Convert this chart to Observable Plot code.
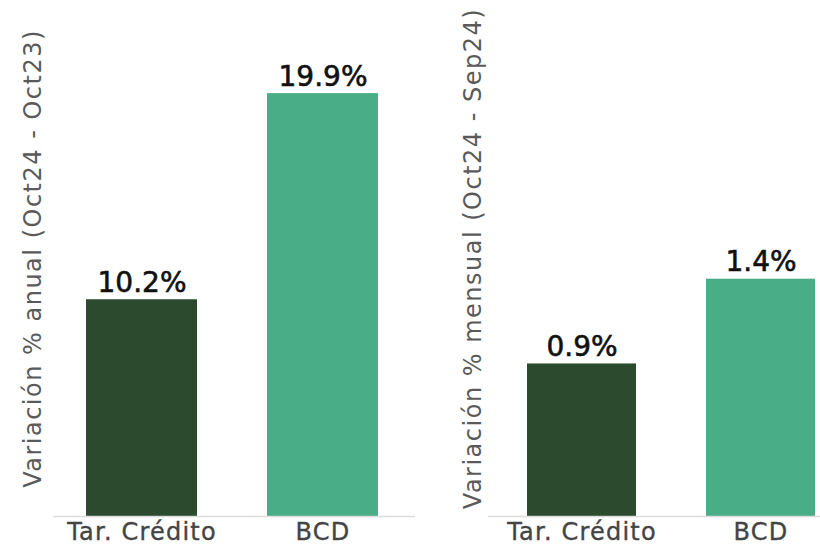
<!DOCTYPE html>
<html>
<head>
<meta charset="utf-8">
<script src="https://cdn.jsdelivr.net/npm/d3@7"></script>
<script src="https://cdn.jsdelivr.net/npm/@observablehq/plot@0.6"></script>
<style>
  html, body { margin: 0; padding: 0; background: #fff; }
  #wrap { display: flex; flex-direction: row; width: 820px; height: 547px; overflow: hidden; }
  #wrap svg { display: block; }
  g[aria-label="x-axis tick label"] text { letter-spacing: 1.2px; stroke: #444; stroke-width: 0.35px; }
  g.ylab text { letter-spacing: 1.5px; }
  g.vlab text { stroke: #111; stroke-width: 0.6px; }
</style>
</head>
<body>
<div id="wrap"></div>
<script>
const categories = ["Tar. Crédito", "BCD"];
const colors = ["#2c4a2e", "#49ae88"];
const anualValues = [10.2, 19.9];
const mensualValues = [0.9, 1.4];
const anualLabel = "Variación % anual (Oct24 - Oct23)";
const mensualLabel = "Variación % mensual (Oct24 - Sep24)";

const font = "DejaVu Sans, sans-serif";

function panel({values, label, width, marginLeft, yMax, padding, paddingOuter, align, labelDx}) {
  const data = categories.map((c, i) => ({cat: c, value: values[i], color: colors[i]}));
  return Plot.plot({
    width,
    height: 547,
    marginLeft,
    marginRight: 0,
    marginTop: 0,
    marginBottom: 31,
    style: {fontFamily: font, background: "#fff", overflow: "visible"},
    x: {domain: categories, paddingInner: padding, paddingOuter, align, label: null},
    y: {domain: [0, yMax], axis: null},
    marks: [
      Plot.barY(data, {x: "cat", y: "value", fill: "color"}),
      Plot.ruleY([0], {stroke: "#dcdcdc", strokeWidth: 1.5}),
      Plot.text(data, {
        x: "cat", y: "value", text: d => d.value.toFixed(1) + "%",
        dy: -8, lineAnchor: "bottom", fontSize: 28, fill: "#111", className: "vlab"
      }),
      Plot.axisX({tickSize: 0, tickPadding: 6, fontSize: 24, fill: "#444", label: null}),
      Plot.text([label], {
        frameAnchor: "left", rotate: -90, dx: labelDx, textAnchor: "middle",
        lineAnchor: "middle", fontSize: 24, fill: "#5a5a5a", className: "ylab"
      })
    ]
  });
}

const left = panel({
  values: anualValues, label: anualLabel, width: 415, marginLeft: 53,
  yMax: 516 / 21.25, padding: 0.387, paddingOuter: 0.193, align: 0.47, labelDx: -20
});
const right = panel({
  values: mensualValues, label: mensualLabel, width: 405, marginLeft: 73,
  yMax: 516 / 169.5, padding: 0.389, paddingOuter: 0.117, align: 0.905, labelDx: -15
});
document.getElementById("wrap").append(left, right);
</script>
</body>
</html>
